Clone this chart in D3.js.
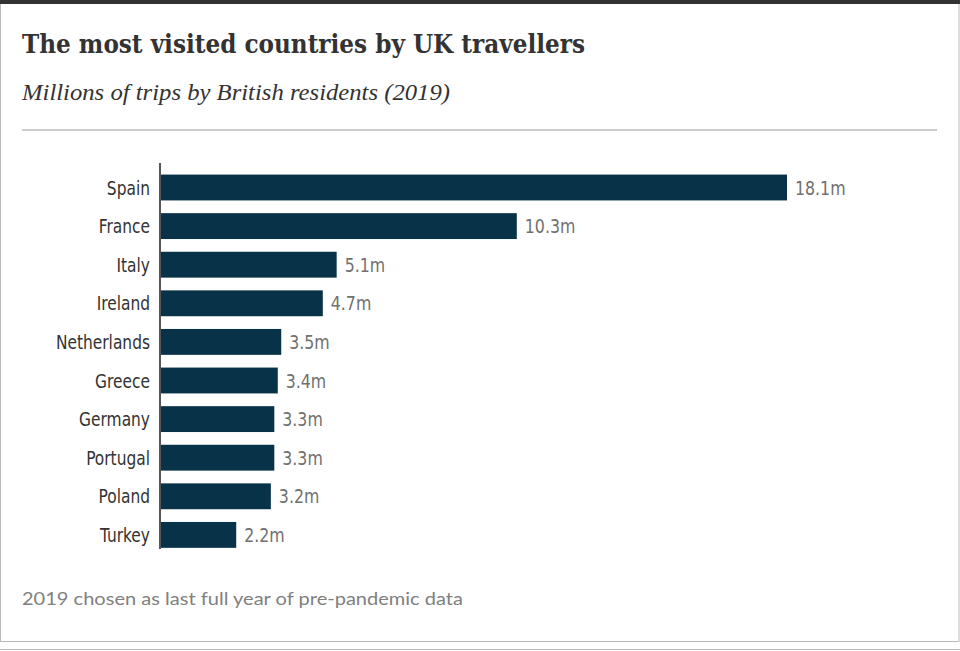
<!DOCTYPE html>
<html><head><meta charset="utf-8">
<script src="https://cdn.jsdelivr.net/npm/d3@7"></script>
<style>
body{margin:0;background:#fff;}
svg{display:block;}
</style></head>
<body>
<script>
const countries = ["Spain","France","Italy","Ireland","Netherlands","Greece","Germany","Portugal","Poland","Turkey"];
const trips = [18.1,10.3,5.1,4.7,3.5,3.4,3.3,3.3,3.2,2.2];
const valueLabels = ["18.1m","10.3m","5.1m","4.7m","3.5m","3.4m","3.3m","3.3m","3.2m","2.2m"];

const W=960,H=651;
const svg=d3.select("body").append("svg").attr("width",W).attr("height",H);

// frame
svg.append("rect").attr("x",0.5).attr("y",0).attr("width",W-1.5).attr("height",641.5).attr("fill","#fff").attr("stroke","#bbb").attr("stroke-width",1);
svg.append("rect").attr("x",0).attr("y",0).attr("width",W).attr("height",4).attr("fill","#333");
svg.append("line").attr("x1",0).attr("x2",W).attr("y1",649.5).attr("y2",649.5).attr("stroke","#bbb");

svg.append("text").attr("x",22).attr("y",53)
  .attr("font-family","'DejaVu Serif Condensed','DejaVu Serif',serif").attr("font-stretch","condensed")
  .attr("font-weight","bold").attr("font-size",26).attr("fill","#333")
  .attr("textLength",563).attr("lengthAdjust","spacingAndGlyphs")
  .text("The most visited countries by UK travellers");
svg.append("text").attr("x",22).attr("y",100)
  .attr("font-family","'Liberation Serif',serif").attr("font-style","italic")
  .attr("font-size",23).attr("fill","#333")
  .attr("textLength",428).attr("lengthAdjust","spacingAndGlyphs")
  .text("Millions of trips by British residents (2019)");
svg.append("rect").attr("x",22).attr("y",129).attr("width",915).attr("height",2).attr("fill","#ccc");

const x=d3.scaleLinear().domain([0,18.1]).range([160,787]);
const y=d3.scaleBand().domain(countries).range([168.2,554.2]).paddingInner(0.33).paddingOuter(0.165);

const g=svg.append("g");
g.selectAll("rect.bar").data(countries).join("rect").attr("class","bar")
  .attr("x",x(0)).attr("y",d=>y(d)).attr("width",(d,i)=>x(trips[i])-x(0)).attr("height",y.bandwidth())
  .attr("fill","#083247");

const labelFont="'DejaVu Sans Condensed','DejaVu Sans',sans-serif";
const yAxis=d3.axisLeft(y).tickSize(0).tickPadding(0);
const ag=svg.append("g").attr("transform",`translate(${x(0)},0)`).call(yAxis);
ag.select(".domain").attr("stroke","#555").attr("stroke-width",2).attr("d","M0,163V549");
ag.selectAll("text").attr("font-family",labelFont).attr("font-stretch","condensed")
  .attr("font-size",19.5).attr("fill","#333").attr("dy","0.36em").attr("x",0)
  .attr("transform","translate(-10,0) scale(0.88,1)");

g.selectAll("text.val").data(countries).join("text").attr("class","val")
  .attr("transform",(d,i)=>`translate(${x(trips[i])+8},${y(d)+y.bandwidth()/2}) scale(0.9,1)`)
  .attr("dy","0.36em")
  .attr("font-family",labelFont).attr("font-stretch","condensed")
  .attr("font-size",19.5).attr("fill","#707070").text((d,i)=>valueLabels[i]);

svg.append("text").attr("x",22).attr("y",605)
  .attr("font-family","Lato,sans-serif")
  .attr("font-size",17).attr("fill","#808080")
  .attr("textLength",441).attr("lengthAdjust","spacingAndGlyphs")
  .text("2019 chosen as last full year of pre-pandemic data");
</script>
</body></html>
